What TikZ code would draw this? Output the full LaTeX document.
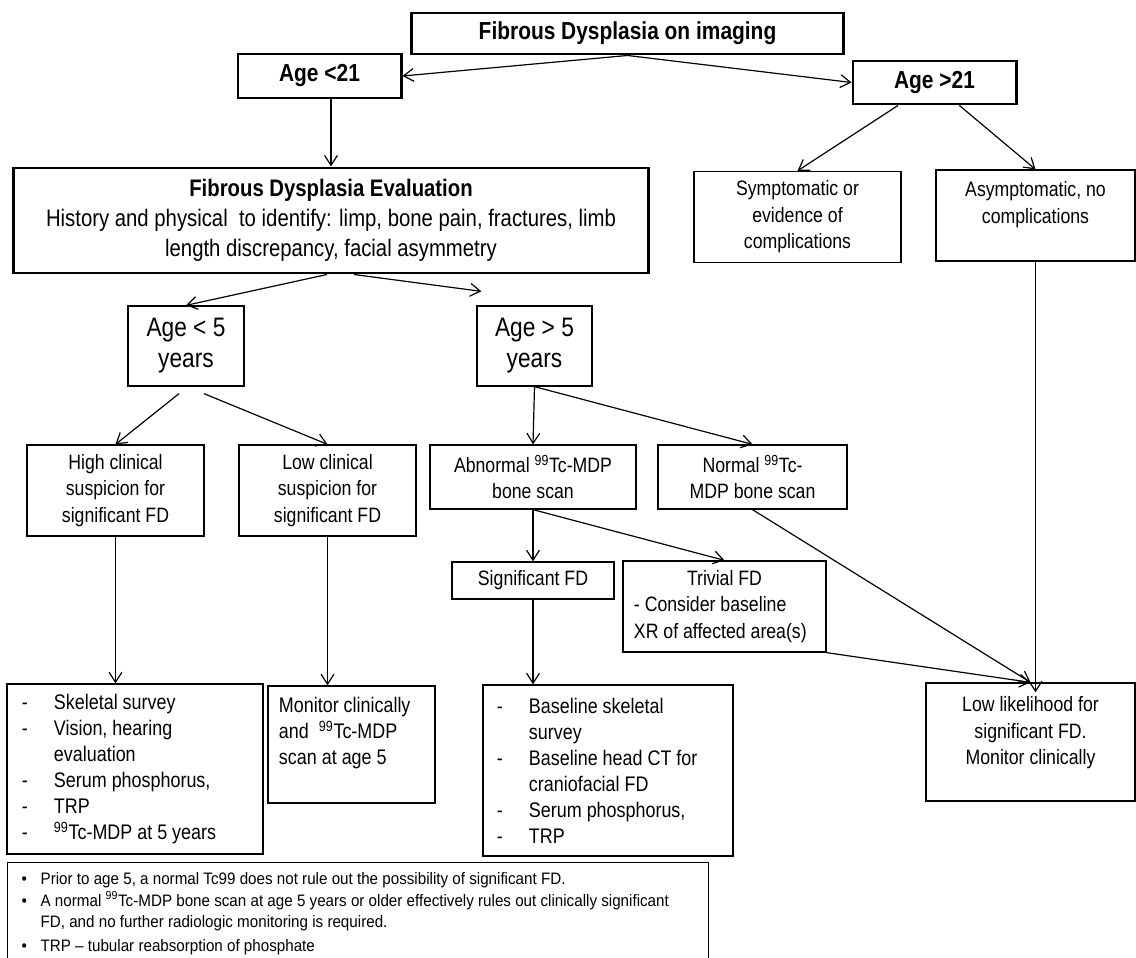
\documentclass[tikz,border=0pt]{standalone}
\usepackage{fontspec}
\setmainfont[FakeStretch=0.85]{Liberation Sans}
\newfontfamily\notefont[FakeStretch=0.915]{Liberation Sans}
\usetikzlibrary{positioning}
\usetikzlibrary{calc}
\usetikzlibrary{arrows.meta}
\tikzset{
    plainleft/.style = {execute at begin node={\spaceskip=0pt\xspaceskip=0pt\rightskip=0pt plus 1fil\relax}},
    headnode/.style = {rectangle, line width=2.1pt, draw=black, align=center, font=\fontsize{17.5}{21}\selectfont\bfseries},
    evalnode/.style = {rectangle, line width=2.1pt, draw=black, align=center, font=\fontsize{17}{21.3}\selectfont},
    agenode/.style = {rectangle, line width=0.9pt, draw=black, align=center, font=\fontsize{19}{22}\selectfont},
    boxnode/.style = {rectangle, line width=0.9pt, draw=black, align=center, font=\fontsize{14.8}{18.8}\selectfont},
    listnode/.style = {rectangle, line width=0.9pt, draw=black, align=left, plainleft, inner xsep=0pt, font=\fontsize{15}{18.5}\selectfont},
    notenode/.style = {rectangle, line width=0.9pt, draw=black, align=left, plainleft, inner xsep=0pt, inner ysep=7pt, font=\notefont\fontsize{11.8}{15.3}\selectfont},
    edgen/.style = {-{Straight Barb[length=2.5mm,width=3.2mm]}, line width=0.85pt}
}
\newcommand{\Dsh}{\makebox[0.8cm][l]{-}}
\newcommand{\Bul}{\makebox[0.475cm][l]{\textbullet}}
\newcommand{\Tcm}{\textsuperscript{99}Tc}

\begin{document}
\begin{tikzpicture}[x=0.025cm, y=-0.025cm]
\useasboundingbox (0,0) rectangle (1136,958);
% top levels
\node[headnode, minimum width=10.775cm, minimum height=1.025cm] at (627.5, 33.5) (top) {Fibrous Dysplasia on imaging};
\node[headnode, minimum width=4.075cm, minimum height=1.1cm] at (319.5, 76) (lt21) {Age <21};
\node[headnode, minimum width=4.075cm, minimum height=1.075cm] at (934.5, 82.5) (gt21) {Age >21};
\node[evalnode, minimum width=15.85cm, minimum height=2.625cm] at (331, 220.5) (fde) {{\fontsize{17}{21.3}\selectfont\bfseries Fibrous Dysplasia Evaluation}\\History and physical\ \ to identify: limp, bone pain, fractures, limb\\length discrepancy, facial asymmetry};
\node[boxnode, minimum width=5.175cm, minimum height=2.275cm] at (797.5, 217) (sympt) {Symptomatic or\\evidence of\\complications};
\node[boxnode, minimum width=4.975cm, minimum height=2.275cm] at (1035.5, 215.5) (asympt) {Asymptomatic, no\\complications\\[-5.7pt]\strut};
% age 5 split
\node[agenode, minimum width=2.9cm, minimum height=2.0cm] at (186, 346) (lt5) {Age < 5\\years};
\node[agenode, minimum width=2.875cm, minimum height=2.0cm] at (534.5, 346) (gt5) {Age > 5\\years};
\node[boxnode, minimum width=4.425cm, minimum height=2.275cm] at (115.5, 490.5) (high) {High clinical\\suspicion for\\significant FD};
\node[boxnode, minimum width=4.425cm, minimum height=2.275cm] at (327.5, 490.5) (low) {Low clinical\\suspicion for\\significant FD};
\node[boxnode, minimum width=5.15cm, minimum height=1.6cm] at (533, 477) (abn) {Abnormal \Tcm-MDP\\bone scan};
\node[boxnode, minimum width=4.725cm, minimum height=1.6cm] at (752.5, 477) (norm) {Normal \Tcm-\\MDP bone scan};
\node[boxnode, minimum width=4.05cm, minimum height=0.925cm] at (533, 580.5) (sig) {Significant FD};
\node[boxnode, align=left, plainleft, inner xsep=0pt, text width=4.525cm, minimum width=5.075cm, minimum height=2.275cm] at (724.5, 606.5) (triv) {\makebox[4.525cm]{Trivial FD}\\- Consider baseline\\XR of affected area(s)};
% outcomes
\node[listnode, text width=5.65cm, minimum width=6.4cm, minimum height=4.25cm] at (135, 769) (skel) {\Dsh Skeletal survey\\\Dsh Vision, hearing\\\hspace*{0.8cm}evaluation\\\Dsh Serum phosphorus,\\\Dsh TRP\\\Dsh \Tcm-MDP at 5 years};
\node[listnode, text width=3.625cm, minimum width=4.175cm, minimum height=2.925cm] at (351.5, 744.5) (mon) {Monitor clinically\\and\ \ \Tcm-MDP\\scan at age 5\\[-5pt]\strut};
\node[listnode, text width=5.55cm, minimum width=6.25cm, minimum height=4.275cm] at (608, 770.5) (base) {\Dsh Baseline skeletal\\\hspace*{0.8cm}survey\\\Dsh Baseline head CT for\\\hspace*{0.8cm}craniofacial FD\\\Dsh Serum phosphorus,\\\Dsh TRP};
\node[boxnode, minimum width=5.225cm, minimum height=2.95cm] at (1030.5, 742) (lowlk) {Low likelihood for\\significant FD.\\Monitor clinically\\[-8.5pt]\strut};
\node[notenode, anchor=north west, text width=16.825cm, minimum width=17.525cm] at (7, 862) (notes) {\Bul Prior to age 5, a normal Tc99 does not rule out the possibility of significant FD.\\\Bul A normal \Tcm-MDP bone scan at age 5 years or older effectively rules out clinically significant\\\hspace*{0.475cm}FD, and no further radiologic monitoring is required.\\[2pt]\Bul TRP \textendash{} tubular reabsorption of phosphate};
%
\coordinate (gt5tip) at ($(gt5.north west)+(5,-14)$);
\coordinate (lt5l) at ($(lt5.south)+(-7,7)$);
\coordinate (lt5r) at ($(lt5.south)+(18,7)$);
%
\draw[edgen] (top.south) -- (lt21.east);
\draw[edgen] (top.south) -- (gt21.west);
\draw[edgen] (lt21.south -| fde.north) -- (fde.north);
\draw[edgen] ($(gt21.south west)!0.28!(gt21.south east)$) -- (sympt.north);
\draw[edgen] ($(gt21.south west)!0.65!(gt21.south east)$) -- (asympt.north);
\draw[edgen] ($(fde.south)+(-4,0)$) -- (lt5.north);
\draw[edgen] ($(fde.south)+(23,0)$) -- (gt5tip);
\draw[edgen] (lt5l) -- (high.north);
\draw[edgen] (lt5r) -- (low.north);
\draw[edgen] (gt5.south) -- (abn.north);
\draw[edgen] (gt5.south) -- (norm.north);
\draw[edgen] (abn.south) -- (sig.north);
\draw[edgen] (abn.south) -- (triv.north);
\draw[edgen] (high.south) -- (high.south |- skel.north);
\draw[edgen] (low.south) -- (low.south |- mon.north);
\draw[edgen] (sig.south) -- (sig.south |- base.north);
\draw[edgen] (norm.south) -- (lowlk.north);
\draw[edgen] (triv.south east) -- (lowlk.north);
\draw[edgen, shorten >=-0.25cm] (asympt.south) -- (asympt.south |- lowlk.north);

\end{tikzpicture}
\end{document}
